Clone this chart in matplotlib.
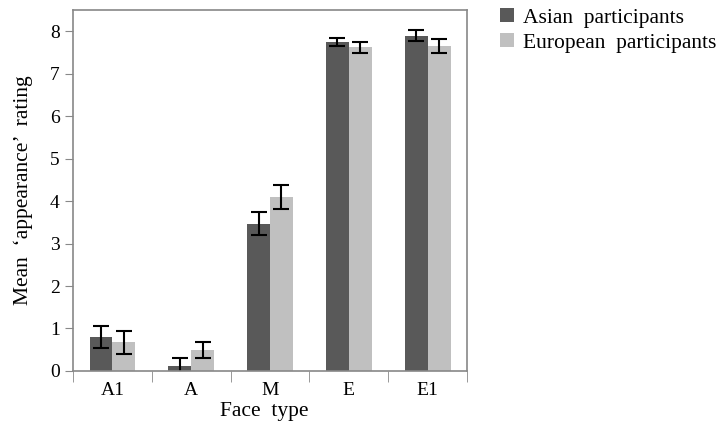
import numpy as np
import matplotlib
matplotlib.use("Agg")
from matplotlib import pyplot as plt

plt.rcParams['font.family'] = ['Liberation Serif', 'DejaVu Serif']

# data
faces = ["A1", "A", "M", "E", "E1"]
asian = [0.80, 0.12, 3.47, 7.75, 7.90]
asian_err = [0.27, 0.18, 0.27, 0.10, 0.13]
european = [0.68, 0.49, 4.10, 7.62, 7.65]
european_err = [0.27, 0.19, 0.28, 0.12, 0.17]

fig = plt.figure(figsize=(7.23, 4.22), dpi=100)
ax = fig.add_axes([0.101, 0.121, 0.545, 0.855])

x = np.arange(len(faces))
w = 0.29
err_kw = dict(ecolor="black", elinewidth=1.5, capsize=6, capthick=1.5)
ax.bar(x - w / 2, asian, w, yerr=asian_err, color="#595959",
       label="Asian  participants", error_kw=err_kw)
ax.bar(x + w / 2, european, w, yerr=european_err, color="#c0c0c0",
       label="European  participants", error_kw=err_kw)

ax.set_xlim(-0.5, len(faces) - 0.5)
ax.set_ylim(0, 8.5)
ax.set_yticks(range(9))
ax.set_xticks(x)
ax.set_xticklabels(faces)
ax.set_xticks(np.arange(len(faces) + 1) - 0.5, minor=True)
ax.tick_params(axis="x", which="major", length=0, labelsize=14, pad=8)
ax.tick_params(axis="x", which="minor", length=8, color="#888888")
ax.tick_params(axis="y", length=6, color="#888888", labelsize=14)
for s in ax.spines.values():
    s.set_color("#888888")
    s.set_linewidth(1.2)

ax.set_xlabel("Face  type", fontsize=15.5, labelpad=1)
ax.xaxis.set_label_coords(0.485, -0.085)
ax.set_ylabel("Mean  \u2018appearance\u2019  rating", fontsize=15.5, labelpad=12)

fig.legend(loc="upper left", bbox_to_anchor=(500 / 723, 1 - 8 / 422),
           frameon=False, fontsize=15.5, borderpad=0, borderaxespad=0,
           handlelength=0.65, handleheight=0.65, handletextpad=0.42,
           labelspacing=0.25)

fig.savefig("out.png", dpi=100)
